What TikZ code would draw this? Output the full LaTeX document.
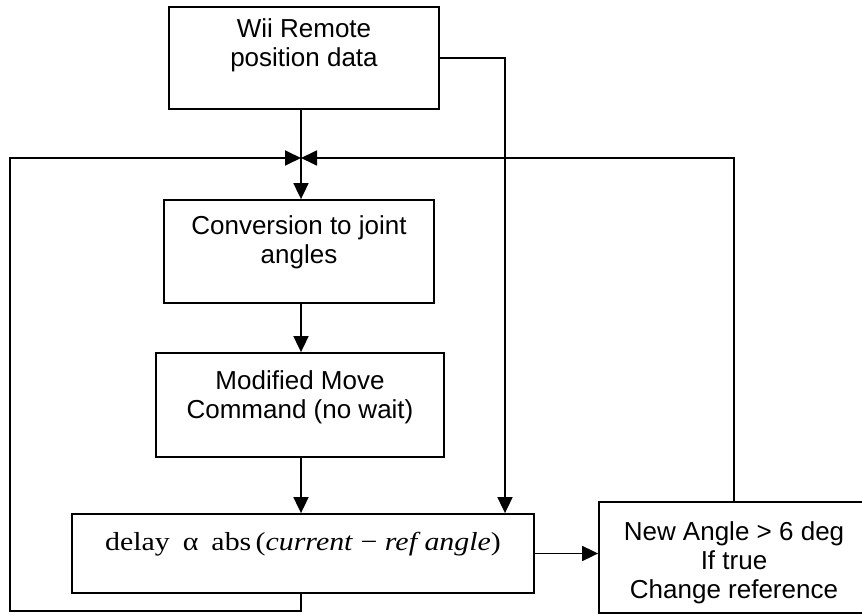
\documentclass[tikz,border=0pt]{standalone}
\usepackage{fontspec}
\setmainfont{Liberation Sans}
\newfontfamily\formulafont[FakeStretch=1.15]{Liberation Serif}
\usetikzlibrary{
    positioning,
    arrows.meta
}

\begin{document}
\begin{tikzpicture}[
      x=1pt, y=-1pt,
      block/.style={rectangle, draw, line width=1.8pt, inner sep=0pt},
      blocktext/.style={inner sep=0pt, align=center, anchor=north,
          font=\fontsize{26}{29}\selectfont},
      arrow/.style={-{Triangle[length=16pt, width=15pt]}, line width=1.8pt},
      wire/.style={line width=1.8pt}
    ]
    \path[use as bounding box, clip] (0,0) rectangle (862,615);

    \node[block, minimum width=270pt, minimum height=102pt] (wii) at (304,58) {};
    \node[blocktext, below=12pt of wii.north] (wiitext) {Wii Remote\\position data};

    \coordinate (jn) at (301,158);

    \node[block, minimum width=270pt, minimum height=103pt] (conv) at (299,251.5) {};
    \node[blocktext, below=16.5pt of conv.north] (convtext) {Conversion to joint\\angles};

    \node[block, minimum width=288pt, minimum height=104pt] (move) at (300,405) {};
    \node[blocktext, below=18pt of move.north] (movetext) {Modified Move\\Command (no wait)};

    \node[block, minimum width=462pt, minimum height=79pt] (delay) at (303,553.5) {};
    \node[blocktext, below=19pt of delay.north, font=\formulafont\fontsize{26}{29}\selectfont]
        (delaytext) {delay\enspace α\enspace abs\,(\textit{current} − \textit{ref angle})};

    % box runs off the right edge of the page
    \node[block, minimum width=300pt, minimum height=111pt] (check) at (749,557.5) {};
    \coordinate (ck) at ([xshift=-15pt]check.north);
    \node[blocktext, below=20pt of ck] (checktext) {New Angle > 6 deg\\If true\\Change reference};

    \coordinate (lb) at (10,611);

    \draw[wire] (wii.south -| jn) -- (jn);
    \draw[arrow] (jn) -- (conv.north -| jn);
    \draw[arrow] (conv.south -| jn) -- (move.north -| jn);
    \draw[arrow] (move.south -| jn) -- (delay.north -| jn);
    \draw[arrow] (wii.east) -| ([xshift=202pt]delay.north);
    \draw[arrow] (delay.east) -- (delay.east -| check.west);
    \draw[arrow] (delay.south -| jn) |- (lb) |- (jn);
    \draw[arrow] (ck) |- (jn);
\end{tikzpicture}
\end{document}
